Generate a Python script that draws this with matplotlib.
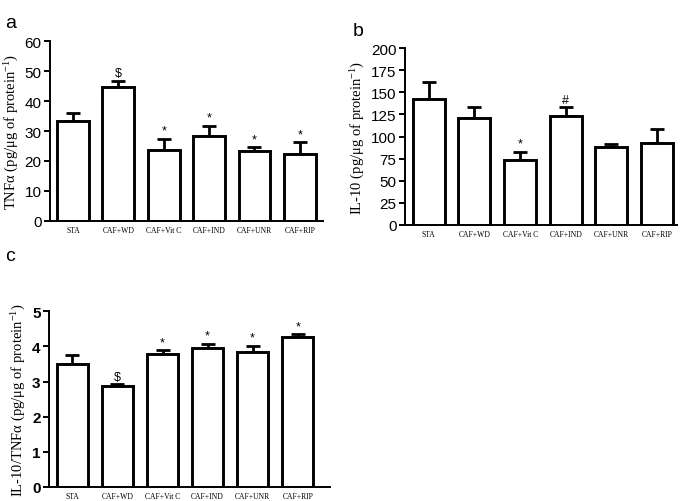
import numpy as np
import matplotlib.pyplot as plt

plt.rcParams["mathtext.fontset"] = "custom"
plt.rcParams["mathtext.rm"] = "Liberation Serif"
plt.rcParams["mathtext.it"] = "Liberation Serif"
plt.rcParams["mathtext.default"] = "rm"

# group names on the x axis
groups = ["STA", "CAF+WD", "CAF+Vit C", "CAF+IND", "CAF+UNR", "CAF+RIP"]

# panel a: TNF-alpha
tnf_mean = [33.5, 44.8, 23.8, 28.2, 23.3, 22.2]
tnf_err = [2.5, 1.9, 3.7, 3.6, 1.2, 4.1]
tnf_marks = ["", "$", "*", "*", "*", "*"]

# panel b: IL-10
il10_mean = [143, 121, 73, 123, 88, 93]
il10_err = [19, 12, 10, 10, 3, 16]
il10_marks = ["", "", "*", "#", "", ""]

# panel c: ratio IL-10/TNF-alpha
ratio_mean = [3.5, 2.88, 3.78, 3.96, 3.85, 4.27]
ratio_err = [0.25, 0.04, 0.12, 0.12, 0.17, 0.08]
ratio_marks = ["", "$", "*", "*", "*", "*"]

sans = "Liberation Sans"
serif = "Liberation Serif"


def bar_panel(ax, mean, err, marks, ymax, yticks, ylabel, xlim, mark_off):
    x = np.arange(len(groups))
    ax.bar(x, mean, width=0.7, color="white", edgecolor="black", linewidth=2.1, zorder=2)
    ax.errorbar(x, mean, yerr=[np.zeros(len(err)), err], fmt="none", ecolor="black",
                elinewidth=2.0, capsize=4.8, capthick=2.0, zorder=1)
    for xi, m, e, s in zip(x, mean, err, marks):
        if s:
            ax.text(xi, m + e + mark_off, s, ha="center", va="bottom", fontsize=9,
                    family=sans)
    ax.set_ylim(0, ymax)
    ax.set_xlim(*xlim)
    ax.set_yticks(yticks)
    ax.set_yticklabels([str(t) for t in yticks], fontsize=11, family=sans)
    ax.set_xticks(x)
    ax.set_xticklabels(groups, fontsize=5.5, family=serif)
    ax.tick_params(axis="x", length=0, pad=4)
    ax.tick_params(axis="y", direction="out", length=4, width=1.4, pad=2)
    ax.spines["top"].set_visible(False)
    ax.spines["right"].set_visible(False)
    ax.spines["left"].set_linewidth(1.4)
    ax.spines["bottom"].set_linewidth(1.4)
    ax.set_ylabel(ylabel, fontsize=10.5, family=serif, labelpad=3)


fig = plt.figure(figsize=(6.85, 5.02), dpi=100)

ax_a = fig.add_axes([0.073, 0.558, 0.3985, 0.358])
bar_panel(ax_a, tnf_mean, tnf_err, tnf_marks, 60, range(0, 61, 10),
          "TNFα (pg/μg of protein$^{-1}$)", (-0.507, 5.51), 0.6)

ax_b = fig.add_axes([0.591, 0.550, 0.397, 0.352])
bar_panel(ax_b, il10_mean, il10_err, il10_marks, 200, range(0, 201, 25),
          "IL-10 (pg/μg of protein$^{-1}$)", (-0.525, 5.43), 2.0)

ax_c = fig.add_axes([0.0715, 0.028, 0.4105, 0.35])
bar_panel(ax_c, ratio_mean, ratio_err, ratio_marks, 5, range(0, 6),
          "IL-10/TNFα (pg/μg of protein$^{-1}$)", (-0.52, 5.72), 0.05)
for lab in ax_c.get_yticklabels():
    lab.set_fontweight("bold")

fig.text(0.008, 0.97, "a", fontsize=14, family=sans, va="top")
fig.text(0.515, 0.955, "b", fontsize=14, family=sans, va="top")
fig.text(0.008, 0.505, "c", fontsize=14, family=sans, va="top")

fig.savefig("out.png", dpi=100)
